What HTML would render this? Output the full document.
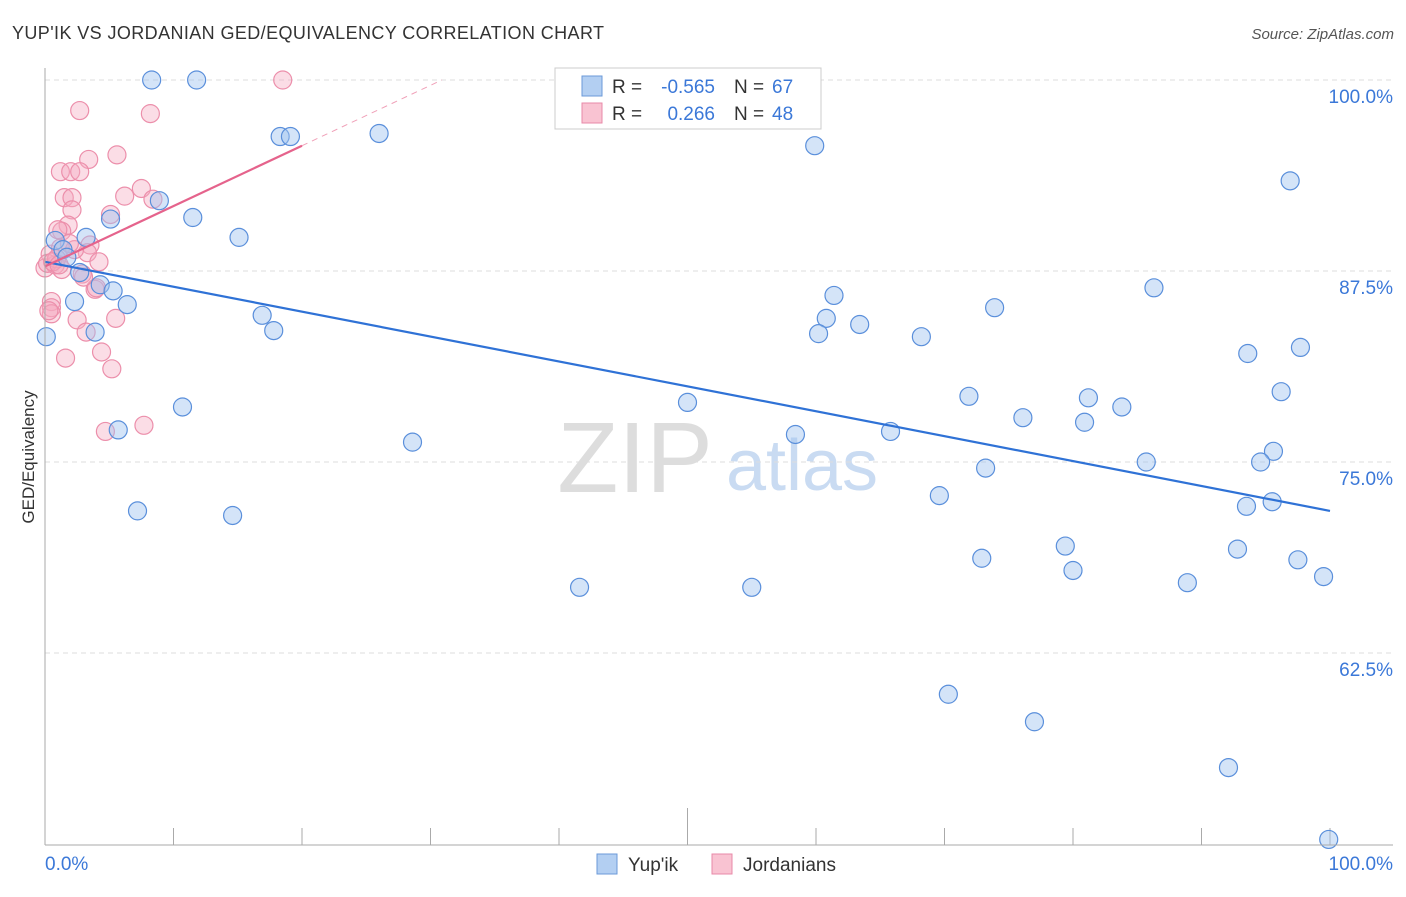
<!DOCTYPE html>
<html><head><meta charset="utf-8"><style>
body{margin:0;background:#fff;font-family:"Liberation Sans",sans-serif;}
svg text{font-family:"Liberation Sans",sans-serif;}
</style></head><body>
<svg id="c" width="1406" height="892" xmlns="http://www.w3.org/2000/svg">
<text x="12" y="39" font-size="18" letter-spacing="0.4" fill="#333">YUP'IK VS JORDANIAN GED/EQUIVALENCY CORRELATION CHART</text>
<text x="1394" y="39" font-size="15" fill="#555" font-style="italic" text-anchor="end">Source: ZipAtlas.com</text>
<text x="34" y="457" font-size="17" fill="#333" text-anchor="middle" transform="rotate(-90 34 457)">GED/Equivalency</text>
<g><text x="635" y="492" font-size="100" fill="#ddd" font-family="Liberation Serif" text-anchor="middle">ZIP</text><text x="802" y="490" font-size="72" fill="#c9dbf2" text-anchor="middle">atlas</text></g>
<g id="grid"></g><g id="marks"></g>
<line x1="45" y1="68" x2="45" y2="845" stroke="#aaa"/>
<line x1="45" y1="845" x2="1393" y2="845" stroke="#aaa"/>
<text x="45" y="870" font-size="19" fill="#3b78d8">0.0%</text>
<text x="1393" y="870" font-size="19" fill="#3b78d8" text-anchor="end">100.0%</text>
<g>
<rect x="555" y="68" width="266" height="61" fill="#fff" stroke="#ccc"/>
<rect x="582" y="76" width="20" height="20" fill="#b3cff2" stroke="#6b9ad8"/>
<rect x="582" y="103" width="20" height="20" fill="#f9c3d2" stroke="#e88aa8"/>
<text x="612" y="93" font-size="19" fill="#333">R =</text>
<text x="715" y="93" font-size="19" fill="#3b78d8" text-anchor="end">-0.565</text>
<text x="734" y="93" font-size="19" fill="#333">N =</text>
<text x="772" y="93" font-size="19" fill="#3b78d8">67</text>
<text x="612" y="120" font-size="19" fill="#333">R =</text>
<text x="715" y="120" font-size="19" fill="#3b78d8" text-anchor="end">0.266</text>
<text x="734" y="120" font-size="19" fill="#333">N =</text>
<text x="772" y="120" font-size="19" fill="#3b78d8">48</text>
</g>
<g>
<rect x="597" y="854" width="20" height="20" fill="#b3cff2" stroke="#6b9ad8"/>
<text x="628" y="871" font-size="19" fill="#333">Yup'ik</text>
<rect x="712" y="854" width="20" height="20" fill="#f9c3d2" stroke="#e88aa8"/>
<text x="743" y="871" font-size="19" fill="#333">Jordanians</text>
</g>
</svg>
<script>
const yTicks=[100,87.5,75,62.5];
const yTickLabels=["100.0%","87.5%","75.0%","62.5%"];
const xTicks=[0,10,20,30,40,50,60,70,80,90,100];
const blueX=[8.3,11.8,18.3,19.1,26.0,59.9,96.9,8.9,5.1,11.5,15.1,0.8,3.2,1.4,1.7,2.7,4.3,5.3,2.3,6.4,16.9,17.8,3.9,0.1,61.4,60.8,60.2,63.4,68.2,73.9,86.3,93.6,97.7,96.2,71.9,81.2,83.8,76.1,80.9,50.0,65.8,58.4,10.7,5.7,28.6,85.7,95.6,94.6,73.2,69.6,93.5,95.5,7.2,14.6,79.4,72.9,80.0,92.8,97.5,99.5,88.9,41.6,55.0,70.3,77.0,92.1,99.9];
const blueY=[100,100,96.3,96.3,96.5,95.7,93.4,92.1,90.9,91.0,89.7,89.5,89.7,88.9,88.4,87.4,86.6,86.2,85.5,85.3,84.6,83.6,83.5,83.2,85.9,84.4,83.4,84.0,83.2,85.1,86.4,82.1,82.5,79.6,79.3,79.2,78.6,77.9,77.6,78.9,77.0,76.8,78.6,77.1,76.3,75.0,75.7,75.0,74.6,72.8,72.1,72.4,71.8,71.5,69.5,68.7,67.9,69.3,68.6,67.5,67.1,66.8,66.8,59.8,58.0,55.0,50.3];
const pinkX=[18.5,2.7,8.2,5.6,3.4,1.2,2.0,2.7,7.5,6.2,1.5,2.1,2.1,5.1,8.4,1.8,1.3,3.5,0.4,1.2,3.3,4.2,0.0,0.8,1.3,3.9,0.5,0.5,0.5,2.5,5.5,3.2,1.6,4.4,5.2,4.7,7.7,0.2,2.9,0.9,1.0,4.0,2.3,0.3,1.9,3.0,0.6,1.1];
const pinkY=[100,98.0,97.8,95.1,94.8,94.0,94.0,94.0,92.9,92.4,92.3,92.3,91.5,91.2,92.2,90.5,90.1,89.2,88.6,89.0,88.7,88.1,87.7,87.9,87.6,86.3,85.5,85.1,84.7,84.3,84.4,83.5,81.8,82.2,81.1,77.0,77.4,88.0,87.3,88.3,90.2,86.4,88.9,84.9,89.3,87.1,88.1,87.9];
const blueFit=[88.1,71.8];
const pinkFit=[87.8,95.7];
const X=v=>45+v*12.85, Y=v=>80+(100-v)*15.28;
const NS="http://www.w3.org/2000/svg";
function mk(t,a,p){const e=document.createElementNS(NS,t);for(const k in a)e.setAttribute(k,a[k]);p.appendChild(e);return e;}
const grid=document.getElementById('grid'),marks=document.getElementById('marks');
yTicks.forEach((t,i)=>{
 const l=mk('line',{x1:45,x2:1393,y1:Y(t),y2:Y(t),stroke:'#ddd','stroke-dasharray':'5,4'},grid);
 
 
 const tx=mk('text',{x:1393,y:Y(t)+23,'font-size':19,fill:'#3b78d8','text-anchor':'end'},grid);
 tx.textContent=yTickLabels[i];
 
 
});
xTicks.forEach(t=>{
 const l=mk('line',{x1:X(t),x2:X(t),y1:t==50?808:828,y2:845,stroke:'#aaa'},grid);
 
 
});
pinkX.forEach((x,i)=>{
 const c=mk('circle',{cx:X(x),cy:Y(pinkY[i]),r:9,fill:'rgba(246,170,192,0.4)',stroke:'#ec8fab','stroke-width':1.2},marks);
 
 
});
blueX.forEach((x,i)=>{
 const c=mk('circle',{cx:X(x),cy:Y(blueY[i]),r:9,fill:'rgba(160,196,240,0.45)',stroke:'#5a8fdb','stroke-width':1.2},marks);
 
 
});
const bl=mk('line',{x1:X(0),y1:Y(blueFit[0]),x2:X(100),y2:Y(blueFit[1]),stroke:'#2f72d6','stroke-width':2.2},marks);


const slope=(pinkFit[1]-pinkFit[0])/20;
const pd=mk('line',{x1:X(20),y1:Y(pinkFit[1]),x2:X(20+(100-pinkFit[1])/slope),y2:Y(100),stroke:'#f0a0b8','stroke-width':1,'stroke-dasharray':'6,5'},marks);


const pl=mk('line',{x1:X(0),y1:Y(pinkFit[0]),x2:X(20),y2:Y(pinkFit[1]),stroke:'#e5638c','stroke-width':2.2},marks);


</script>
</body></html>
